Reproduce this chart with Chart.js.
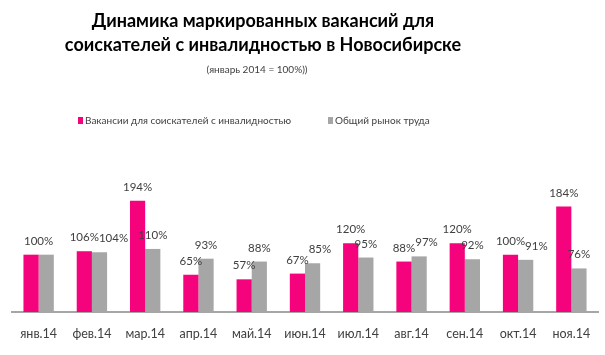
<!DOCTYPE html>
<html><head><meta charset="utf-8">
<script src="https://cdn.jsdelivr.net/npm/chart.js@4"></script>
<style>html,body{margin:0;padding:0;background:#fff}#w{width:605px;height:355px}</style>
</head><body><div id="w"><canvas id="c"></canvas></div>
<script>
const categories = ['янв.14','фев.14','мар.14','апр.14','май.14','июн.14','июл.14','авг.14','сен.14','окт.14','ноя.14'];
const disabledVacancies = [100,106,194,65,57,67,120,88,120,100,184];
const totalMarket = [100,104,110,93,88,85,95,97,92,91,76];
const seriesNames = ['Вакансии для соискателей с инвалидностью','Общий рынок труда'];
const seriesColors = ['#F5037C','#A6A6A6'];
const titleLines = ['Динамика маркированных вакансий для','соискателей с инвалидностью в Новосибирске'];
const subtitleText = '(январь 2014 = 100%))';

const FONT = "Lato,'Liberation Sans',sans-serif";

const headerPlugin = {
  id:'header',
  afterDraw(chart){
    const ctx = chart.ctx;
    ctx.save();
    ctx.textBaseline = 'alphabetic';
    ctx.textAlign = 'center';
    ctx.fillStyle = '#000';
    ctx.font = "bold 18px " + FONT;
    ctx.fillText(titleLines[0], 263, 27);
    ctx.fillText(titleLines[1], 263, 51);
    ctx.fillStyle = '#404040';
    ctx.font = "10px " + FONT;
    ctx.fillText(subtitleText, 257, 73);
    // legend
    ctx.textAlign = 'left';
    ctx.textBaseline = 'middle';
    ctx.font = "10px " + FONT;
    const xs = [78, 328];
    for (let i=0;i<2;i++){
      ctx.fillStyle = seriesColors[i];
      ctx.fillRect(xs[i], 117, 5, 7);
      ctx.fillStyle = '#404040';
      ctx.fillText(seriesNames[i], xs[i]+7, 120.5);
    }
    ctx.restore();
  }
};

const labelPlugin = {
  id:'vals',
  afterDatasetsDraw(chart){
    const ctx = chart.ctx;
    ctx.save();
    ctx.font = "11.5px " + FONT;
    ctx.fillStyle = '#404040';
    ctx.textAlign = 'center';
    ctx.textBaseline = 'alphabetic';
    const m0 = chart.getDatasetMeta(0), m1 = chart.getDatasetMeta(1);
    const d0 = chart.data.datasets[0].data, d1 = chart.data.datasets[1].data;
    for (let i=0;i<d0.length;i++){
      const a = m0.data[i], b = m1.data[i];
      const ta = d0[i]+'%', tb = d1[i]+'%';
      if (d0[i]===d1[i]) { ctx.fillText(ta,(a.x+b.x)/2,a.y-10); continue; }
      ctx.fillText(ta,a.x,a.y-10);
      let bx = b.x;
      const wa = ctx.measureText(ta).width, wb = ctx.measureText(tb).width;
      if (Math.abs(a.y-b.y)<12 && (a.x+wa/2) > (bx-wb/2)) bx = a.x + wa/2 + wb/2;
      ctx.fillText(tb,bx,b.y-10);
    }
    ctx.restore();
  }
};

new Chart(document.getElementById('c'),{
  type:'bar',
  data:{labels:categories,datasets:[
    {label:seriesNames[0],data:disabledVacancies,backgroundColor:seriesColors[0],categoryPercentage:0.57,barPercentage:1.0},
    {label:seriesNames[1],data:totalMarket,backgroundColor:seriesColors[1],categoryPercentage:0.57,barPercentage:1.0}
  ]},
  options:{
    responsive:true,maintainAspectRatio:false,animation:false,
    layout:{padding:{left:12,right:7,bottom:0,top:140}},
    plugins:{
      title:{display:false},
      legend:{display:false},
      tooltip:{enabled:false}
    },
    scales:{
      x:{grid:{display:false,drawTicks:false},border:{display:true,color:'#A6A6A6',width:2},ticks:{color:'#404040',font:{family:FONT,size:12.5},padding:14}},
      y:{display:false,min:0,max:300}
    }
  },
  plugins:[labelPlugin, headerPlugin]
});
</script></body></html>
